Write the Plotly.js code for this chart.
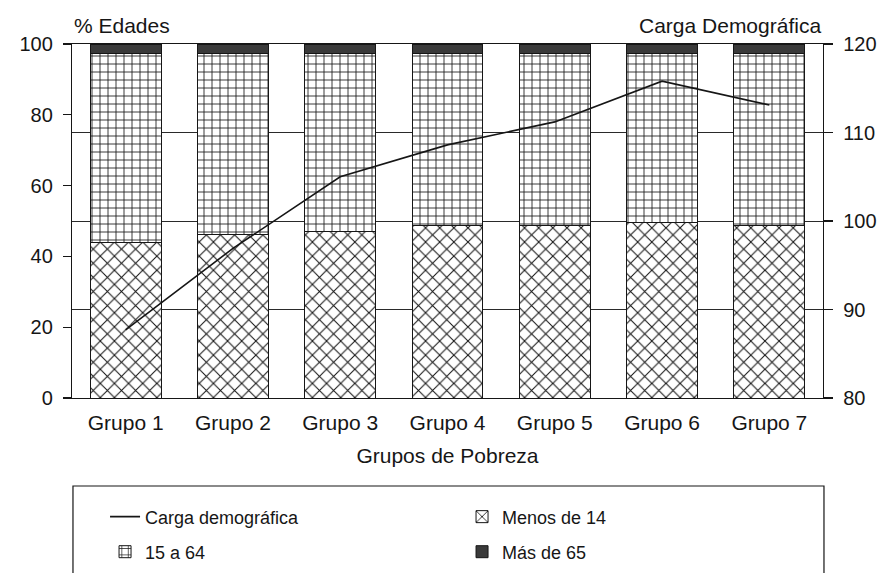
<!DOCTYPE html>
<html>
<head>
<meta charset="utf-8">
<script src="https://cdn.plot.ly/plotly-3.0.1.min.js"></script>
<style>
  body { margin: 0; background: #ffffff; }
  #chart { width: 895px; height: 573px; }
</style>
</head>
<body>
<div id="chart"></div>
<script>
// Estructura de edades y carga demográfica por grupo de pobreza
var grupos = ['Grupo 1', 'Grupo 2', 'Grupo 3', 'Grupo 4', 'Grupo 5', 'Grupo 6', 'Grupo 7'];
var menos14 = [43.8, 46.1, 46.9, 48.6, 48.6, 49.5, 48.6];
var de15a64 = [53.4, 51.1, 50.3, 48.6, 48.6, 47.7, 48.6];
var mas65 = [2.8, 2.8, 2.8, 2.8, 2.8, 2.8, 2.8];
var carga = [87.7, 96.9, 105.0, 108.6, 111.2, 115.8, 113.1];

var FONT = 'Liberation Sans, Arial, sans-serif';
var INK = '#161616';

var barLine = { color: INK, width: 1 };

var traces = [
    {
        x: grupos, y: carga, yaxis: 'y2', type: 'scatter', mode: 'lines',
        name: 'Carga demográfica', line: { color: INK, width: 1.6 },
        legend: 'legend'
    },
    {
        x: grupos, y: menos14, type: 'bar', name: 'Menos de 14',
        marker: {
            color: '#ffffff', line: barLine,
            pattern: { shape: 'x', size: 10, solidity: 0.2, fgcolor: INK, bgcolor: '#ffffff', fillmode: 'replace' }
        },
        legend: 'legend'
    },
    {
        x: grupos, y: de15a64, type: 'bar', name: '15 a 64',
        marker: {
            color: '#ffffff', line: barLine,
            pattern: { shape: '+', size: 8, solidity: 0.2, fgcolor: INK, bgcolor: '#ffffff', fillmode: 'replace' }
        },
        legend: 'legend2'
    },
    {
        x: grupos, y: mas65, type: 'bar', name: 'Más de 65',
        marker: { color: '#3a3a3a', line: barLine },
        legend: 'legend2'
    }
];

var legendBase = {
    orientation: 'h', traceorder: 'normal',
    entrywidth: 312, entrywidthmode: 'pixels',
    xanchor: 'left', yanchor: 'middle',
    bgcolor: 'rgba(0,0,0,0)', borderwidth: 0,
    font: { family: FONT, size: 18, color: INK }
};

var layout = {
    width: 895, height: 573,
    margin: { l: 72, r: 72, t: 44, b: 175, pad: 0, autoexpand: false },
    paper_bgcolor: '#ffffff', plot_bgcolor: '#ffffff',
    barmode: 'stack', bargap: 0.34,
    font: { family: FONT, color: INK },
    xaxis: {
        type: 'category', range: [-0.5, 6.5],
        showline: true, mirror: true, linecolor: INK, linewidth: 1.2,
        ticks: '', showgrid: false, ticklabelstandoff: 6,
        tickfont: { family: FONT, size: 21, color: INK },
        title: { text: 'Grupos de Pobreza', standoff: 14, font: { family: FONT, size: 21, color: INK } }
    },
    yaxis: {
        range: [0, 100], dtick: 20, fixedrange: true,
        showline: true, linecolor: INK, linewidth: 1.2,
        ticks: 'outside', ticklen: 8, tickwidth: 1.2, tickcolor: INK,
        showgrid: false, zeroline: false, ticklabelstandoff: 6,
        tickfont: { family: FONT, size: 20, color: INK }
    },
    yaxis2: {
        overlaying: 'y', side: 'right',
        range: [80, 120], dtick: 10,
        showline: true, linecolor: INK, linewidth: 1.2,
        ticks: 'outside', ticklen: 9, tickwidth: 1.2, tickcolor: INK,
        showgrid: true, gridcolor: '#2a2a2a', gridwidth: 1, zeroline: false,
        ticklabelstandoff: 6,
        tickfont: { family: FONT, size: 20, color: INK }
    },
    showlegend: true,
    legend: Object.assign({}, legendBase, { x: 0.044, y: -0.336 }),
    legend2: Object.assign({}, legendBase, { x: 0.044, y: -0.435 }),
    shapes: [
        {
            type: 'rect', xref: 'paper', yref: 'paper',
            x0: 0.0013, x1: 1.0013, y0: -0.2486, y1: -0.62,
            line: { color: INK, width: 1.2 }, fillcolor: 'rgba(0,0,0,0)', layer: 'above'
        }
    ],
    annotations: [
        {
            text: '% Edades', xref: 'paper', yref: 'paper', x: 0, y: 1,
            xanchor: 'left', yanchor: 'bottom', yshift: 5, showarrow: false,
            font: { family: FONT, size: 21, color: INK }
        },
        {
            text: 'Carga Demográfica', xref: 'paper', yref: 'paper', x: 1, y: 1,
            xanchor: 'right', yanchor: 'bottom', yshift: 5, showarrow: false,
            font: { family: FONT, size: 21, color: INK }
        }
    ]
};

Plotly.newPlot('chart', traces, layout, { displayModeBar: false, staticPlot: true });
</script>
</body>
</html>
